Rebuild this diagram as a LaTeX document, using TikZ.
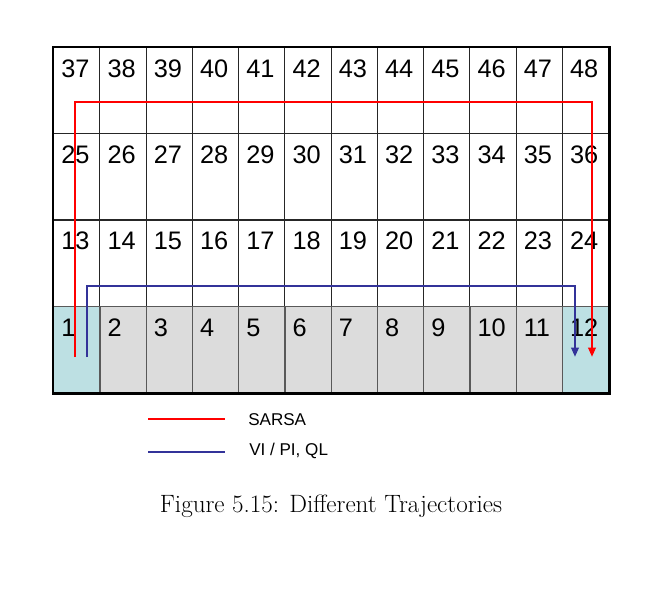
\documentclass[tikz,border=0pt]{standalone}
\usepackage{fontspec}
\newfontfamily\arialfont{Liberation Sans}
\usetikzlibrary{arrows.meta}
\definecolor{cellgray}{RGB}{220,220,220}
\definecolor{goalcyan}{RGB}{189,224,227}
\definecolor{trajblue}{RGB}{51,51,153}
\begin{document}
\begin{tikzpicture}[x=0.75pt,y=-0.75pt,
  cellbox/.style={draw=black!85, line width=0.7pt, minimum width=34.69pt, minimum height=64.69pt, inner sep=0pt, anchor=north west},
  bottombox/.style={cellbox, draw=black!65, line width=1.1pt},
  numlabel/.style={font=\arialfont\fontsize{19}{21}\selectfont, anchor=base west, inner sep=0pt},
  traj/.style={line width=2.2pt, -{Triangle[length=7pt,width=5.5pt]}},
  legline/.style={line width=1.7pt},
  legtext/.style={font=\arialfont\fontsize{12.8}{15}\selectfont, anchor=base west, inner sep=0pt},
  caption/.style={font=\fontsize{18.8}{22}\selectfont, anchor=base, inner sep=0pt}]
\useasboundingbox (0,0) rectangle (664,595);
% upper three rows
\foreach \r in {0,1,2} {
  \foreach \c in {0,...,11} {
    \pgfmathtruncatemacro\n{(3-\r)*12+\c+1}
    \node[cellbox] (c\n) at ({53+\c*46.25},{47+\r*86.25}) {};
    \node[numlabel] (n\n) at ({53+\c*46.25+8},{47+\r*86.25+30.5}) {\n};
  }
}
% bottom row
\foreach \c in {0,...,11} {
  \pgfmathtruncatemacro\n{\c+1}
  \ifnum\n=1 \def\fillc{goalcyan}\else\ifnum\n=12 \def\fillc{goalcyan}\else\def\fillc{cellgray}\fi\fi
  \node[bottombox, fill=\fillc] (c\n) at ({53+\c*46.25},{47+3*86.25}) {};
  \node[numlabel] (n\n) at ({53+\c*46.25+8},{47+3*86.25+30.5}) {\n};
}
% outer border
\draw[line width=1.6pt] (c37.north west) rectangle (c12.south east);
% trajectories
\coordinate (bs) at (87,357);
\coordinate (bt) at (575,286);
\coordinate (be) at (575,357);
\draw[traj, trajblue] (bs) |- (bt) -- (be);
\coordinate (rs) at (75,357);
\coordinate (rt) at (592,102);
\coordinate (re) at (592,357);
\draw[traj, red] (rs) |- (rt) -- (re);
% legend
\coordinate (l1a) at (148,419);
\coordinate (l1b) at (225,419);
\coordinate (l2a) at (148,452);
\coordinate (l2b) at (225,452);
\draw[legline, red] (l1a) -- (l1b);
\draw[legline, trajblue] (l2a) -- (l2b);
\node[legtext] (t1) at (248,425.5) {SARSA};
\node[legtext] (t2) at (249,455) {VI / PI, QL};
% caption
\node[caption] (cap) at (331,512) {Figure 5.15: Different Trajectories};
\end{tikzpicture}
\end{document}
